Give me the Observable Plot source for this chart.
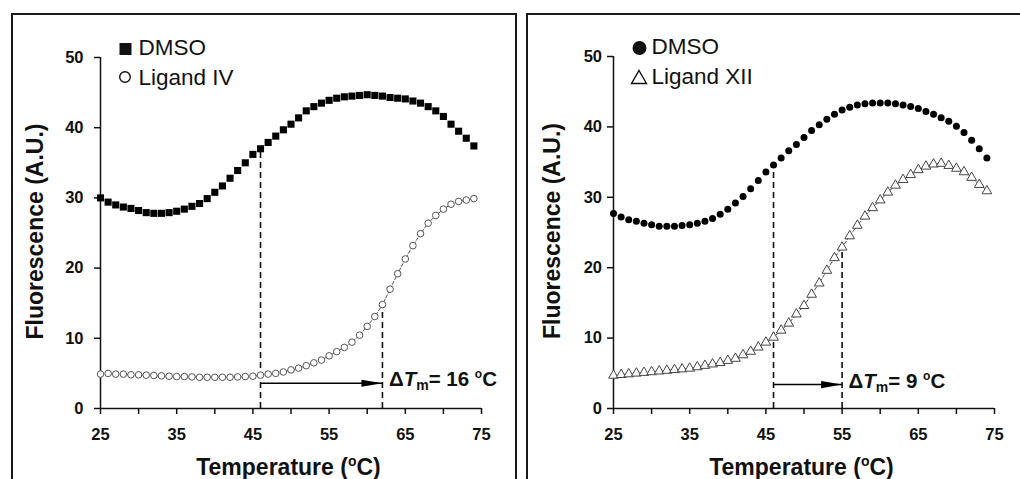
<!DOCTYPE html>
<html><head><meta charset="utf-8">
<script src="https://cdn.jsdelivr.net/npm/d3@7"></script>
<script src="https://cdn.jsdelivr.net/npm/@observablehq/plot@0.6"></script>
<style>
body{margin:0;background:#fff;}
#wrap{position:relative;width:1020px;height:479px;overflow:hidden;background:#fff;}
.panel{position:absolute;top:0;}
.panel svg{display:block;max-width:none;}
.frame{position:absolute;border:2.5px solid #1a1a1a;box-sizing:border-box;pointer-events:none;z-index:2;}
</style></head><body>
<div id="wrap">
  <div id="p1" class="panel" style="left:0;width:516px;height:479px"></div>
  <div id="p2" class="panel" style="left:520px;width:500px;height:479px"></div>
  <div class="frame" style="left:11px;top:13px;width:506px;height:600px"></div>
  <div class="frame" style="left:526px;top:13px;width:600px;height:600px"></div>
</div>
<script>
const FONT = '"Liberation Sans", Arial, Helvetica, sans-serif';

// ---- data ----
const temperature = [25,26,27,28,29,30,31,32,33,34,35,36,37,38,39,40,41,42,43,44,45,46,47,48,49,50,51,52,53,54,55,56,57,58,59,60,61,62,63,64,65,66,67,68,69,70,71,72,73,74];

const dmsoA = [30.0,29.4,29.0,28.7,28.5,28.2,27.9,27.8,27.8,27.9,
               28.1,28.4,28.8,29.2,29.9,30.8,31.7,32.8,33.9,35.0,
               36.2,37.0,37.9,38.8,39.7,40.5,41.4,42.4,43.0,43.5,
               43.9,44.2,44.4,44.5,44.6,44.7,44.6,44.5,44.3,44.2,
               44.1,43.8,43.5,43.0,42.4,41.6,40.5,39.5,38.5,37.4];

const ligandIV = [4.9,5.0,4.9,4.9,4.8,4.8,4.75,4.7,4.65,4.6,
                  4.55,4.55,4.5,4.45,4.45,4.45,4.45,4.45,4.5,4.55,
                  4.6,4.75,4.9,5.0,5.2,5.5,5.75,6.1,6.5,6.9,
                  7.5,8.1,8.7,9.45,10.45,11.7,13.1,14.8,17.0,19.2,
                  21.3,23.2,24.9,26.4,27.5,28.4,29.1,29.5,29.7,29.9];

const dmsoB = [27.7,27.2,26.8,26.6,26.3,26.1,25.9,25.9,25.9,26.0,
               26.1,26.3,26.6,27.0,27.6,28.3,29.2,30.1,31.2,32.4,
               33.6,34.6,35.6,36.6,37.5,38.5,39.5,40.3,41.1,41.8,
               42.4,42.8,43.1,43.3,43.4,43.4,43.4,43.3,43.1,42.9,
               42.6,42.2,41.8,41.3,40.8,40.1,39.2,38.1,36.9,35.6];

const ligandXII = [4.7,4.8,4.9,5.0,5.1,5.2,5.3,5.4,5.5,5.6,
                   5.7,5.9,6.1,6.3,6.5,6.8,7.1,7.6,8.1,8.7,
                   9.4,10.1,11.1,12.1,13.4,14.6,16.2,17.8,19.6,21.4,
                   22.9,24.5,26.0,27.3,28.5,29.6,30.7,31.7,32.5,33.2,
                   33.9,34.4,34.7,34.8,34.5,34.1,33.6,32.8,31.8,30.9];

const xTicks = [25,30,35,40,45,50,55,60,65,70,75];
const xTickLabels = [25,35,45,55,65,75];
const yTicks = [0,10,20,30,40,50];

const ligandNames = ["Ligand IV", "Ligand XII"];
const tmDmso = [46, 46];
const tmLigand = [62, 55];
const deltaTm = [16, 9];
const arrowLevel = [3.6, 3.4];

// arrow head symbol (tip at the point)
const arrowHead = {draw(ctx) { ctx.moveTo(0,0); ctx.lineTo(-21,-3.6); ctx.lineTo(-21,3.6); ctx.closePath(); }};

function makePanel(k, cfg) {
  const dmso = k === 0 ? dmsoA : dmsoB;
  const lig = k === 0 ? ligandIV : ligandXII;
  const rows = temperature.map((t, i) => ({t, dmso: dmso[i], lig: lig[i]}));
  const iA = temperature.indexOf(tmDmso[k]);
  const iB = temperature.indexOf(tmLigand[k]);
  const dashed = [{t: tmDmso[k], v: dmso[iA]}, {t: tmLigand[k], v: lig[iB]}];
  const arrow = [{from: tmDmso[k], to: tmLigand[k], level: arrowLevel[k]}];

  const plot = Plot.plot({
    width: cfg.width, height: 479,
    marginLeft: cfg.ml, marginRight: cfg.mr, marginTop: cfg.mt, marginBottom: 71,
    style: {background: "transparent", fontFamily: FONT, color: "#111", overflow: "visible"},
    x: {domain: [25, 75]},
    y: {domain: [0, 50]},
    marks: [
      Plot.axisX({ticks: xTicks, tickFormat: d => xTickLabels.includes(d) ? String(d) : "",
        tickSize: 6, tickPadding: 14, fontSize: 16.5, fontWeight: "bold", label: null, strokeWidth: 1.5}),
      Plot.axisY({ticks: yTicks, tickSize: 6, tickPadding: cfg.yPad, fontSize: 16.5, fontWeight: "bold", label: null, strokeWidth: 1.5}),
      Plot.ruleX([25], {strokeWidth: 1.5}),
      Plot.ruleY([0], {strokeWidth: 1.5}),
      Plot.ruleX(dashed, {x: "t", y1: 0, y2: "v", strokeDasharray: "6,4", strokeWidth: 1.6}),
      Plot.line(rows, {x: "t", y: "lig", stroke: "#222", strokeWidth: 0.8, strokeDasharray: "3,2"}),
      Plot.dot(rows, {x: "t", y: "dmso", symbol: cfg.dmsoSymbol, fill: "black", stroke: "none", r: cfg.dmsoR}),
      Plot.dot(rows, {x: "t", y: "lig", symbol: cfg.ligSymbol, fill: "white", stroke: cfg.ligStroke, strokeWidth: 1, r: cfg.ligR}),
      Plot.link(arrow, {x1: "from", x2: "to", y1: "level", y2: "level", stroke: "black", strokeWidth: 1.5}),
      Plot.dot(arrow, {x: "to", y: "level", symbol: arrowHead, fill: "black", stroke: "none", r: 5})
    ]
  });

  const xs = plot.scale("x"), ys = plot.scale("y");
  const sx = d3.scaleLinear(xs.domain, xs.range);
  const sy = d3.scaleLinear(ys.domain, ys.range);
  const svg = d3.select(plot);
  const g = svg.append("g").attr("font-family", FONT).attr("fill", "#111").attr("text-anchor", "start");

  // axis titles
  g.append("text")
    .attr("transform", `translate(${sx(25) - cfg.yTitleOff},${(sy(0) + sy(50)) / 2 - 1}) rotate(-90)`)
    .attr("text-anchor", "middle").attr("font-weight", "bold").attr("font-size", 23)
    .text("Fluorescence (A.U.)");
  const xt = g.append("text")
    .attr("x", (sx(25) + sx(75)) / 2 - 2).attr("y", 475)
    .attr("text-anchor", "middle").attr("font-weight", "bold").attr("font-size", 23);
  xt.append("tspan").text("Temperature (");
  xt.append("tspan").attr("font-size", 14).attr("dy", -9).text("o");
  xt.append("tspan").attr("dy", 9).text("C)");

  // legend
  const fx = sx(25), fy = sy(50);
  cfg.legendSymbols(g, fx, fy);
  g.append("text").attr("x", fx + 38.5).attr("y", fy - 2).attr("font-size", 22.5).text("DMSO");
  g.append("text").attr("x", fx + 38.5).attr("y", fy + 28).attr("font-size", 22.5).text(ligandNames[k]);

  // delta Tm label
  const lt = g.append("text")
    .attr("x", sx(tmLigand[k]) + 7).attr("y", sy(arrowLevel[k]) + 3.7)
    .attr("font-weight", "bold").attr("font-size", 20.5);
  lt.append("tspan").text("\u0394");
  lt.append("tspan").attr("font-style", "italic").text("T");
  lt.append("tspan").attr("font-size", 14).attr("dy", 4).text("m");
  lt.append("tspan").attr("dy", -4).text("=\u00a0" + deltaTm[k] + "\u00a0");
  lt.append("tspan").attr("font-size", 12).attr("dy", -8).text("o");
  lt.append("tspan").attr("dy", 8).text("C");

  document.getElementById(cfg.id).appendChild(plot);
}

makePanel(0, {
  id: "p1", width: 516, ml: 100, mr: 35, mt: 57, yPad: 11, yTitleOff: 57,
  dmsoSymbol: "square", dmsoR: 4.0, ligSymbol: "circle", ligR: 3.3, ligStroke: "#555",
  legendSymbols(g, fx, fy) {
    g.append("rect").attr("x", fx + 19.5).attr("y", fy - 14).attr("width", 12).attr("height", 12).attr("fill", "#111");
    g.append("circle").attr("cx", fx + 25).attr("cy", fy + 20).attr("r", 5.3).attr("fill", "none").attr("stroke", "#111").attr("stroke-width", 1.4);
  }
});
makePanel(1, {
  id: "p2", width: 500, ml: 93, mr: 26, mt: 56, yPad: 5.5, yTitleOff: 53,
  dmsoSymbol: "circle", dmsoR: 3.5, ligSymbol: "triangle", ligR: 3.6, ligStroke: "#444",
  legendSymbols(g, fx, fy) {
    g.append("circle").attr("cx", fx + 26.5).attr("cy", fy - 8).attr("r", 7).attr("fill", "#111");
    g.append("path").attr("d", `M${fx + 26},${fy + 14.5}L${fx + 33.5},${fy + 27.5}L${fx + 18.5},${fy + 27.5}Z`)
      .attr("fill", "none").attr("stroke", "#111").attr("stroke-width", 1.4);
  }
});
</script>
</body></html>
